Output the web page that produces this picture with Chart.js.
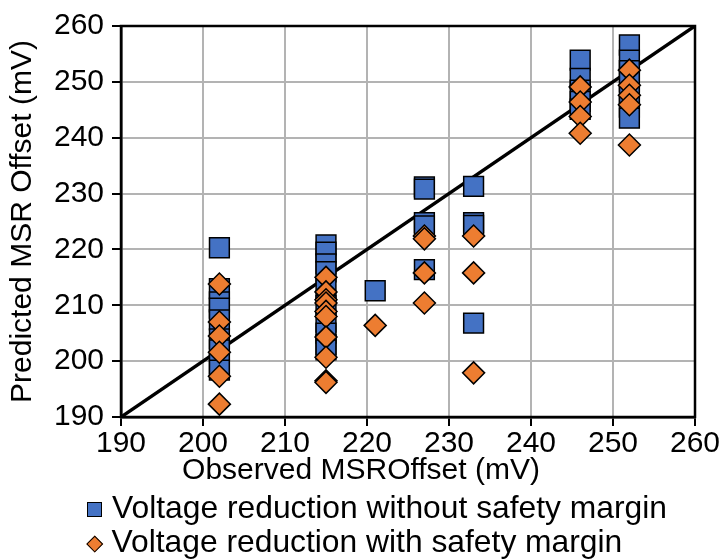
<!DOCTYPE html>
<html>
<head>
<meta charset="utf-8">
<script src="https://cdn.jsdelivr.net/npm/chart.js@4.4.1/dist/chart.umd.min.js"></script>
<style>
  html, body { margin: 0; padding: 0; background: #fff; }
  #wrap { position: relative; width: 722px; height: 559px; font-family: 'Liberation Sans', Arial, sans-serif; }
  #xTitle { position: absolute; left: 0; width: 722px; top: 452px; text-align: center; font-size: 30px; line-height: 34px; color: #000; }
  .legendRow { position: absolute; left: 84px; font-size: 31.8px; line-height: 34px; color: #000; white-space: nowrap; }
  .legendRow .mk { display: inline-block; vertical-align: middle; }
</style>
</head>
<body>
<div id="wrap">
  <canvas id="chart" width="722" height="559"></canvas>
  <div id="xTitle"></div>
  <div id="legend"></div>
</div>
<script>
// ===== Data =====
const xTitle = 'Observed MSROffset (mV)';
const yTitle = 'Predicted MSR Offset (mV)';
const axisMin = 190;
const axisMax = 260;
const axisStep = 10;
const refLine = [190, 260];

const noMarginLabel = 'Voltage reduction without safety margin';
const noMarginObs = [
  202, 202, 202, 202, 202, 202, 202, 202, 202,
  215, 215, 215, 215, 215, 215, 215, 215, 215, 215,
  221,
  227, 227, 227, 227, 227,
  233, 233, 233, 233,
  246, 246, 246, 246, 246,
  252, 252, 252, 252, 252, 252, 252
];
const noMarginPred = [
  220.3, 213.0, 210.6, 209.5, 207.4, 204.0, 202.0, 199.5, 198.4,
  220.8, 219.5, 217.4, 216.0, 213.0, 210.0, 207.0, 205.0, 203.0, 202.0,
  212.6,
  231.2, 230.8, 224.8, 224.2, 216.4,
  231.3, 224.8, 224.3, 206.8,
  253.9, 250.6, 248.5, 246.5, 245.1,
  256.6, 253.9, 252.0, 250.0, 247.5, 245.5, 243.5
];

const withMarginLabel = 'Voltage reduction with safety margin';
const withMarginObs = [
  202, 202, 202, 202, 202, 202,
  215, 215, 215, 215, 215, 215, 215, 215, 215, 215,
  221,
  227, 227, 227, 227,
  233, 233, 233,
  246, 246, 246, 246,
  252, 252, 252, 252, 252
];
const withMarginPred = [
  213.8, 207.0, 204.5, 201.6, 197.3, 192.3,
  215.0, 212.4, 211.0, 210.4, 208.9, 208.0, 204.3, 200.7, 196.5, 196.2,
  206.4,
  222.4, 221.9, 215.8, 210.4,
  222.4, 215.8, 197.9,
  249.1, 246.4, 243.8, 240.8,
  252.1, 249.4, 247.6, 245.9, 238.7
];

const blue = '#4472C4';
const orange = '#ED7D31';
const FONT = "'Liberation Sans', Arial, sans-serif";

const toPoints = (xs, ys) => xs.map((x, i) => ({ x: x, y: ys[i] }));

// black frame around the plot area
const framePlugin = {
  id: 'frame',
  afterDraw(chart) {
    const a = chart.chartArea;
    const c = chart.ctx;
    c.save();
    c.strokeStyle = '#000';
    c.lineWidth = 2.5;
    c.strokeRect(a.left, a.top, a.right - a.left, a.bottom - a.top);
    c.restore();
  }
};

const ctx = document.getElementById('chart').getContext('2d');
const chart = new Chart(ctx, {
  type: 'scatter',
  data: {
    datasets: [
      {
        label: withMarginLabel,
        data: toPoints(withMarginObs, withMarginPred),
        pointStyle: 'rectRot',
        pointRadius: 11,
        pointHoverRadius: 11,
        backgroundColor: orange,
        borderColor: '#000',
        borderWidth: 1.5,
        order: 1
      },
      {
        label: noMarginLabel,
        data: toPoints(noMarginObs, noMarginPred),
        pointStyle: 'rect',
        pointRadius: 14,
        pointHoverRadius: 14,
        backgroundColor: blue,
        borderColor: '#000',
        borderWidth: 1.5,
        order: 2
      },
      {
        type: 'line',
        label: 'y = x',
        data: toPoints(refLine, refLine),
        borderColor: '#000',
        borderWidth: 3.5,
        pointRadius: 0,
        fill: false,
        order: 3
      }
    ]
  },
  options: {
    responsive: false,
    animation: false,
    layout: { padding: { left: 0, top: 26, right: 27, bottom: 102 } },
    scales: {
      x: {
        type: 'linear',
        min: axisMin,
        max: axisMax,
        ticks: { stepSize: axisStep, color: '#000', font: { family: FONT, size: 30 }, padding: 0, maxRotation: 0 },
        grid: { color: '#b3b3b3', lineWidth: 2, tickColor: '#000', tickLength: 9, tickWidth: 2 },
        border: { color: '#000', width: 2.5 },
        afterFit(s) { s.height = 40; }
      },
      y: {
        min: axisMin,
        max: axisMax,
        ticks: { stepSize: axisStep, color: '#000', font: { family: FONT, size: 30 }, padding: 8 },
        grid: { color: '#b3b3b3', lineWidth: 2, tickColor: '#000', tickLength: 9, tickWidth: 2 },
        border: { color: '#000', width: 2.5 },
        title: { display: true, text: yTitle, color: '#000', font: { family: FONT, size: 30 }, padding: { top: 5, bottom: 0 } },
        afterFit(s) { s.width = 121; }
      }
    },
    plugins: {
      legend: { display: false },
      tooltip: { enabled: false }
    }
  },
  plugins: [framePlugin]
});

// ===== x title and legend as page text =====
document.getElementById('xTitle').textContent = xTitle;

const legendItems = [
  { label: noMarginLabel, shape: 'square', color: blue, top: 490 },
  { label: withMarginLabel, shape: 'diamond', color: orange, top: 524 }
];
const legend = document.getElementById('legend');
legendItems.forEach(item => {
  const row = document.createElement('div');
  row.className = 'legendRow';
  row.style.top = item.top + 'px';
  const mk = document.createElement('span');
  mk.className = 'mk';
  if (item.shape === 'square') {
    mk.style.cssText = 'width:13px;height:13px;border:1.5px solid #000;background:' + item.color + ';margin-left:3px;margin-right:10px;';
  } else {
    mk.style.cssText = 'width:9.5px;height:9.5px;border:1.5px solid #000;background:' + item.color + ';transform:rotate(45deg);margin-left:5px;margin-right:11px;';
  }
  row.appendChild(mk);
  row.appendChild(document.createTextNode(item.label));
  legend.appendChild(row);
});
</script>
</body>
</html>
